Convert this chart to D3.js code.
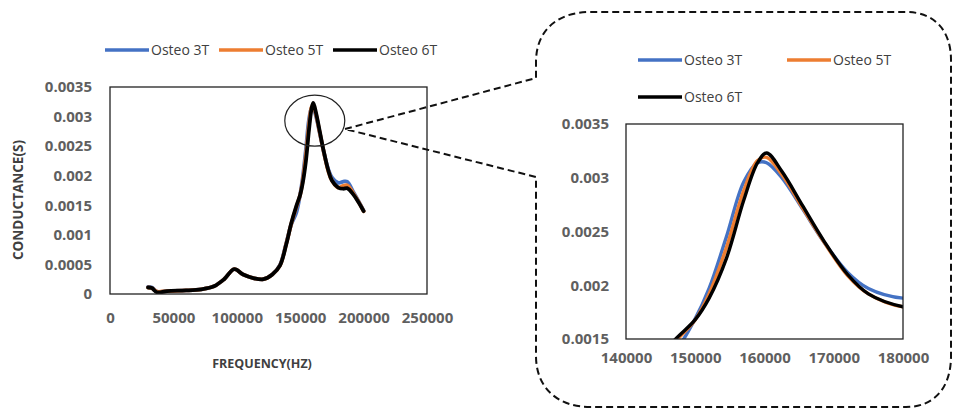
<!DOCTYPE html>
<html>
<head>
	<title>osteoConductance</title>
	<style>
		body { margin: 0; background-color: white; }
		text { font-family: 'Open Sans', sans-serif; }
	</style>
</head>
<body>

<div id="dataviz"></div>

<script src="https://d3js.org/d3.v7.min.js"></script>
<script>

	// frequency (Hz) shared by all three samples
	var frequency = [30000, 33000, 37000, 45000, 60000, 72000, 82000, 90000, 98000, 105000,
		113000, 121000, 128000, 134000, 139000, 143000, 147000, 150000, 152000, 154500,
		157000, 159000, 160300, 162500, 165500, 168500, 172000, 175000, 180000, 184000,
		187000, 192000, 196000, 200000];

	// conductance (S)
	var osteo3T = [0.00012, 0.00011, 0.00004, 0.00005, 0.00006, 0.00008, 0.00013, 0.00025, 0.00042, 0.00033,
		0.00027, 0.00025, 0.00033, 0.00049, 0.00086, 0.00118, 0.00138, 0.00169, 0.00197, 0.00245,
		0.00296, 0.00314, 0.00314, 0.00300, 0.00271, 0.00241, 0.00212, 0.00197, 0.00188, 0.00190,
		0.00190, 0.00172, 0.00157, 0.00141];

	var osteo5T = [0.00011, 0.00010, 0.00004, 0.00005, 0.00006, 0.00008, 0.00013, 0.00025, 0.00042, 0.00033,
		0.00027, 0.00025, 0.00033, 0.00048, 0.00085, 0.00119, 0.00147, 0.00168, 0.00192, 0.00235,
		0.00288, 0.00316, 0.00319, 0.00303, 0.00272, 0.00241, 0.00209, 0.00192, 0.00180, 0.00183,
		0.00184, 0.00170, 0.00156, 0.00140];

	var osteo6T = [0.00011, 0.00010, 0.00003, 0.00005, 0.00006, 0.00008, 0.00013, 0.00025, 0.00042, 0.00033,
		0.00027, 0.00025, 0.00033, 0.00048, 0.00084, 0.00120, 0.00149, 0.00168, 0.00188, 0.00225,
		0.00279, 0.00314, 0.00323, 0.00306, 0.00274, 0.00242, 0.00210, 0.00192, 0.00180, 0.00178,
		0.00179, 0.00168, 0.00155, 0.00140];

	var seriesNames = ['Osteo 3T', 'Osteo 5T', 'Osteo 6T'];
	var seriesColors = ['#4472C4', '#ED7D31', '#000000'];

	var mainXTicks = [0, 50000, 100000, 150000, 200000, 250000];
	var mainYTicks = [0, 0.0005, 0.001, 0.0015, 0.002, 0.0025, 0.003, 0.0035];
	var zoomXTicks = [140000, 150000, 160000, 170000, 180000];
	var zoomYTicks = [0.0015, 0.002, 0.0025, 0.003, 0.0035];

	var width = 953;
	var height = 410;

	var svg = d3.select('#dataviz')
		.append('svg')
		.attr('width', width)
		.attr('height', height);

	var series = [osteo3T, osteo5T, osteo6T].map(function(vals, i){
		return {
			name: seriesNames[i],
			color: seriesColors[i],
			values: vals.map(function(v, j){ return {f: frequency[j], g: v}; })
		};
	});

	var tickColor = '#5f5f5f';

	function drawChart(opts) {
		var x = d3.scaleLinear().domain(opts.xDomain).range([opts.left, opts.right]);
		var y = d3.scaleLinear().domain(opts.yDomain).range([opts.bottom, opts.top]);

		var g = svg.append('g');

		g.append('clipPath')
			.attr('id', opts.id + '-clip')
			.append('rect')
			.attr('x', opts.left)
			.attr('y', opts.top)
			.attr('width', opts.right - opts.left)
			.attr('height', opts.bottom - opts.top);

		var line = d3.line()
			.x(function(d){ return x(d.f); })
			.y(function(d){ return y(d.g); })
			.curve(d3.curveCatmullRom.alpha(0.5));

		g.append('g')
			.attr('clip-path', 'url(#' + opts.id + '-clip)')
			.selectAll('.line')
			.data(series)
			.enter()
			.append('path')
			.attr('d', function(d){ return line(d.values); })
			.attr('fill', 'none')
			.attr('stroke', function(d){ return d.color; })
			.attr('stroke-width', opts.lineWidth)
			.attr('stroke-linejoin', 'round')
			.attr('stroke-linecap', 'round');

		// plot frame
		g.append('rect')
			.attr('x', opts.left)
			.attr('y', opts.top)
			.attr('width', opts.right - opts.left)
			.attr('height', opts.bottom - opts.top)
			.attr('fill', 'none')
			.attr('stroke', '#222')
			.attr('stroke-width', 1.3);

		var xAxis = g.append('g')
			.attr('transform', 'translate(0,' + (opts.xLabelY) + ')')
			.call(d3.axisBottom(x).tickValues(opts.xTicks).tickSize(0).tickFormat(d3.format('d')));
		xAxis.select('.domain').remove();
		xAxis.selectAll('text')
			.attr('fill', tickColor)
			.attr('font-size', 15)
			.attr('font-weight', 700)
			.attr('font-family', "'Open Sans', sans-serif");

		var yAxis = g.append('g')
			.attr('transform', 'translate(' + opts.yLabelX + ',0)')
			.call(d3.axisLeft(y).tickValues(opts.yTicks).tickSize(0).tickFormat(function(d){ return String(+d.toFixed(4)); }));
		yAxis.select('.domain').remove();
		yAxis.selectAll('text')
			.attr('fill', tickColor)
			.attr('font-size', 15)
			.attr('font-weight', 700)
			.attr('font-family', "'Open Sans', sans-serif");

		return {x: x, y: y};
	}

	function drawLegend(items) {
		items.forEach(function(it){
			var s = series[it.i];
			svg.append('line')
				.attr('x1', it.x)
				.attr('x2', it.x + 44)
				.attr('y1', it.y)
				.attr('y2', it.y)
				.attr('stroke', s.color)
				.attr('stroke-width', 3.5);
			svg.append('text')
				.attr('x', it.x + 46)
				.attr('y', it.y + 5)
				.text(s.name)
				.attr('font-size', 14)
				.attr('font-weight', 500)
				.attr('fill', '#404040');
		});
	}

	// main chart
	var main = drawChart({
		id: 'main',
		xDomain: [0, 250000], yDomain: [0, 0.0035],
		left: 110, right: 427, top: 87, bottom: 294,
		xTicks: mainXTicks, yTicks: mainYTicks,
		xLabelY: 309, yLabelX: 95,
		lineWidth: 3.8
	});

	drawLegend([
		{i: 0, x: 105, y: 50},
		{i: 1, x: 219, y: 50},
		{i: 2, x: 333, y: 50}
	]);

	svg.append('text')
		.attr('x', 262)
		.attr('y', 368)
		.attr('text-anchor', 'middle')
		.text('FREQUENCY(HZ)')
		.attr('font-size', 12.5)
		.attr('font-weight', 700)
		.attr('fill', '#404040');

	svg.append('text')
		.attr('transform', 'translate(23,200) rotate(-90)')
		.attr('text-anchor', 'middle')
		.text('CONDUCTANCE(S)')
		.attr('font-size', 13.5)
		.attr('font-weight', 700)
		.attr('fill', '#404040');

	// circle round the peak
	svg.append('ellipse')
		.attr('cx', main.x(161500))
		.attr('cy', main.y(0.00293))
		.attr('rx', 30)
		.attr('ry', 25.5)
		.attr('fill', 'none')
		.attr('stroke', '#222')
		.attr('stroke-width', 1.2);

	// dashed callout
	svg.append('path')
		.attr('d', 'M 345,129 L 536,78 V 62 C 536,30 558,12 590,12 H 906 C 934,12 951,30 951,60 V 356 C 951,388 934,407 906,407 H 590 C 558,407 536,388 536,356 V 177 Z')
		.attr('fill', 'none')
		.attr('stroke', '#111')
		.attr('stroke-width', 2)
		.attr('stroke-dasharray', '7,4');

	// zoomed chart
	drawChart({
		id: 'zoom',
		xDomain: [140000, 180000], yDomain: [0.0015, 0.0035],
		left: 626, right: 903, top: 124, bottom: 339,
		xTicks: zoomXTicks, yTicks: zoomYTicks,
		xLabelY: 349, yLabelX: 612,
		lineWidth: 3.4
	});

	drawLegend([
		{i: 0, x: 638, y: 60},
		{i: 1, x: 787, y: 60},
		{i: 2, x: 638, y: 97}
	]);

</script>
</body>
</html>
